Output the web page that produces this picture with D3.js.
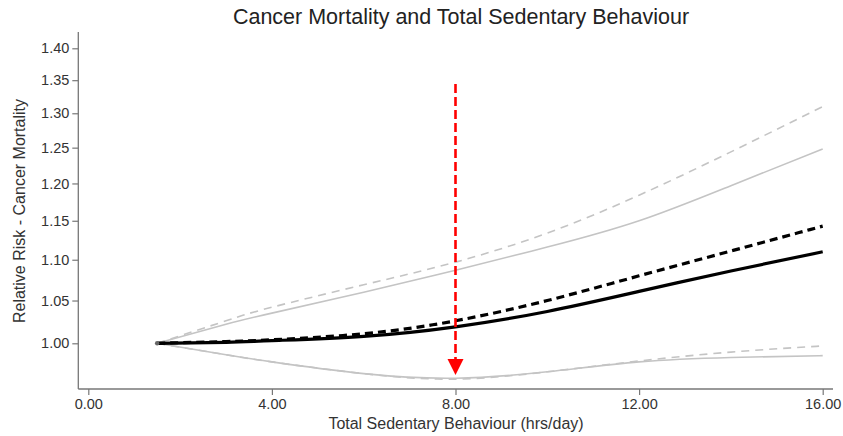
<!DOCTYPE html>
<html>
<head>
<meta charset="utf-8">
<script src="https://cdn.jsdelivr.net/npm/d3@7"></script>
<style>
  html, body { margin: 0; padding: 0; background: #fff; }
  svg { display: block; font-family: "Liberation Sans", Arial, sans-serif; }
</style>
</head>
<body>
<svg id="chart" width="843" height="436"></svg>
<script>
// Sedentary hours per day at which the spline estimates are evaluated
const hours = [1.5, 3, 4, 6, 8, 10, 12, 14, 16];

// Relative risk of cancer mortality (reference = 1.5 hrs/day)
const rrSolid      = [1.000, 1.001, 1.003, 1.008, 1.019, 1.037, 1.061, 1.086, 1.110];
const rrDashed     = [1.000, 1.002, 1.004, 1.011, 1.026, 1.050, 1.080, 1.111, 1.143];
const upperSolid   = [1.000, 1.022, 1.035, 1.060, 1.087, 1.116, 1.150, 1.197, 1.248];
const upperDashed  = [1.000, 1.026, 1.042, 1.069, 1.097, 1.134, 1.184, 1.244, 1.310];
const lowerSolid   = [1.000, 0.987, 0.979, 0.966, 0.961, 0.968, 0.979, 0.984, 0.986];
const lowerDashed  = [1.000, 0.987, 0.979, 0.966, 0.960, 0.968, 0.980, 0.990, 0.997];

// Axis ticks
const xTicks = [0, 4, 8, 12, 16];
const yTicks = [1.00, 1.05, 1.10, 1.15, 1.20, 1.25, 1.30, 1.35, 1.40];

// Annotation arrow: at 8 hrs/day, from RR 1.344 down to 0.9645
const arrowX = 8;
const arrowFrom = 1.344;
const arrowTo = 0.9645;

const svg = d3.select("#chart");

const x = d3.scaleLinear().domain([0, 16]).range([88.3, 822.7]);
const y = d3.scaleLog().domain([1.0, 1.4]).range([343.3, 48.3]);

const plotLeft = 78.3, plotRight = 833, plotTop = 32, plotBottom = 389;

// Title
svg.append("text")
  .attr("x", 461).attr("y", 24)
  .attr("text-anchor", "middle")
  .attr("font-size", 21.5)
  .attr("fill", "#222")
  .text("Cancer Mortality and Total Sedentary Behaviour");

// Y axis
const yAxis = svg.append("g").attr("transform", `translate(${plotLeft},0)`)
  .call(d3.axisLeft(y).tickValues(yTicks).tickFormat(d3.format(".2f")).tickSize(6).tickPadding(3));
yAxis.select(".domain").attr("d", `M0,${plotTop}V${plotBottom}`);

// X axis
const xAxis = svg.append("g").attr("transform", `translate(0,${plotBottom})`)
  .call(d3.axisBottom(x).tickValues(xTicks).tickFormat(d3.format(".2f")).tickSize(6).tickPadding(4));
xAxis.select(".domain").attr("d", `M${plotLeft},0H${plotRight}`);

svg.selectAll(".domain").attr("stroke", "#777").attr("stroke-width", 1.3);
svg.selectAll(".tick line").attr("stroke", "#777").attr("stroke-width", 1.2);
svg.selectAll(".tick text").attr("font-size", 14.5).attr("fill", "#333")
  .attr("font-family", "'Liberation Sans', Arial, sans-serif");

// Axis titles
svg.append("text")
  .attr("x", 456).attr("y", 429)
  .attr("text-anchor", "middle")
  .attr("font-size", 16).attr("fill", "#333")
  .text("Total Sedentary Behaviour (hrs/day)");

svg.append("text")
  .attr("transform", "translate(25,211) rotate(-90)")
  .attr("text-anchor", "middle")
  .attr("font-size", 16).attr("fill", "#333")
  .text("Relative Risk - Cancer Mortality");

// Curves
const line = d3.line()
  .x((d, i) => x(hours[i]))
  .y(d => y(d))
  .curve(d3.curveNatural);

const series = [
  { values: lowerSolid,  stroke: "#c4c4c4", width: 1.6, dash: null },
  { values: lowerDashed, stroke: "#c4c4c4", width: 1.6, dash: "8,6" },
  { values: upperSolid,  stroke: "#c4c4c4", width: 1.6, dash: null },
  { values: upperDashed, stroke: "#c4c4c4", width: 1.6, dash: "8,6" },
  { values: rrSolid,     stroke: "#000",    width: 3.2, dash: null },
  { values: rrDashed,    stroke: "#000",    width: 3.2, dash: "8,5" }
];

svg.append("g").selectAll("path").data(series).join("path")
  .attr("d", d => line(d.values))
  .attr("fill", "none")
  .attr("stroke", d => d.stroke)
  .attr("stroke-width", d => d.width)
  .attr("stroke-dasharray", d => d.dash)
  .attr("stroke-linecap", "butt");

// Reference point
svg.append("circle")
  .attr("cx", x(hours[0])).attr("cy", y(rrSolid[0]))
  .attr("r", 2.2).attr("fill", "#666");

// Red dashed arrow
const ax = x(arrowX);
const headLen = 16, headHalf = 8;
svg.append("line")
  .attr("x1", ax).attr("x2", ax)
  .attr("y1", y(arrowFrom)).attr("y2", y(arrowTo) - headLen + 1)
  .attr("stroke", "#f00").attr("stroke-width", 2.6)
  .attr("stroke-dasharray", "9,4");
svg.append("path")
  .attr("d", `M${ax - headHalf},${y(arrowTo) - headLen}L${ax + headHalf},${y(arrowTo) - headLen}L${ax},${y(arrowTo)}Z`)
  .attr("fill", "#f00");
</script>
</body>
</html>
